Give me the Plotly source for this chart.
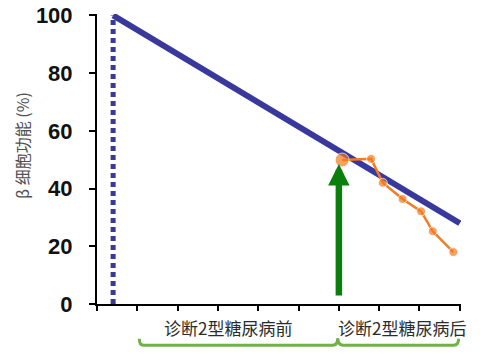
import plotly.graph_objects as go

# data
y_ticks = [0, 20, 40, 60, 80, 100]
x_ticks = [0, 1, 2, 3, 4, 5, 6, 7, 8, 9]
trend_x = [0.4, 9.0]
trend_y = [100, 28]
onset_x = [0.4, 0.4]
onset_y = [0, 100]
post_x = [6.08, 6.80, 7.09, 7.58, 8.04, 8.33, 8.84]
post_y = [49.9, 50.3, 42.0, 36.4, 32.1, 25.2, 18.0]
post_sizes = [14, 9, 9, 9, 9, 9, 9]
arrow_x = 6.0
arrow_y0 = 2.4
arrow_y1 = 48.5
phase_labels = ["诊断2型糖尿病前", "诊断2型糖尿病后"]
phase_label_x = [3.24, 7.57]
y_title = "β 细胞功能 (%)"

BLUE = "#39389C"
ORANGE = "#F37B20"
GREEN = "#0B7F0B"
LGREEN = "#72B04A"

fig = go.Figure()
fig.add_trace(go.Scatter(x=onset_x, y=onset_y, mode="lines",
                         line=dict(color=BLUE, width=5, dash="5px,4px"),
                         hoverinfo="skip"))
fig.add_trace(go.Scatter(x=trend_x, y=trend_y, mode="lines",
                         line=dict(color=BLUE, width=6), hoverinfo="skip"))
fig.add_trace(go.Scatter(x=post_x, y=post_y, mode="lines+markers",
                         line=dict(color=ORANGE, width=2.5),
                         marker=dict(color=ORANGE, size=post_sizes),
                         cliponaxis=False))

# arrow
fig.add_annotation(x=arrow_x, y=arrow_y1, ax=arrow_x, ay=arrow_y0,
                   xref="x", yref="y", axref="x", ayref="y",
                   text="", showarrow=True, arrowhead=2,
                   arrowwidth=6.5, arrowsize=0.66, arrowcolor=GREEN,
                   standoff=0, startstandoff=0)

# phase labels
for lx, lt in zip(phase_label_x, phase_labels):
    fig.add_annotation(x=lx, y=-0.08, xref="x", yref="paper", text=lt,
                       showarrow=False, yanchor="middle",
                       font=dict(family="Noto Sans CJK SC", size=17, color="#2b2b2b"))

# braces
top, bot = -0.120, -0.142
brace = (f"M 1.05,{top} Q 1.05,{bot} 1.15,{bot} L 5.85,{bot} "
         f"Q 5.97,{bot} 5.97,-0.118 Q 5.99,{bot} 6.1,{bot} L 8.85,{bot} "
         f"Q 8.97,{bot} 8.97,{top}")
fig.add_shape(type="path", path=brace, xref="x", yref="paper",
              line=dict(color=LGREEN, width=3))

# y title
fig.add_annotation(x=-0.206, y=0.545, xref="paper", yref="paper", text=y_title,
                   textangle=-90, showarrow=False, xanchor="center",
                   font=dict(family="Noto Sans CJK SC", size=16, color="#505050"))

fig.update_layout(
    width=500, height=354,
    margin=dict(l=97, r=39, t=14, b=50, autoexpand=False),
    paper_bgcolor="white", plot_bgcolor="white",
    showlegend=False,
    xaxis=dict(range=[0, 9.03], tickvals=x_ticks, showticklabels=False,
               ticks="outside", ticklen=5, tickwidth=1.5, tickcolor="black",
               showline=True, linecolor="black", linewidth=2, automargin=False,
               showgrid=False, zeroline=False, fixedrange=True),
    yaxis=dict(range=[0, 100.5], tickvals=y_ticks, ticks="outside", ticklen=6,
               tickwidth=2, tickcolor="black", showline=True, linecolor="black",
               linewidth=2, showgrid=False, zeroline=False, automargin=False,
               ticklabelstandoff=12,
               tickfont=dict(family="Liberation Sans", size=22, color="#111",
                             weight="bold"), fixedrange=True),
)

fig.write_html("out.html")
